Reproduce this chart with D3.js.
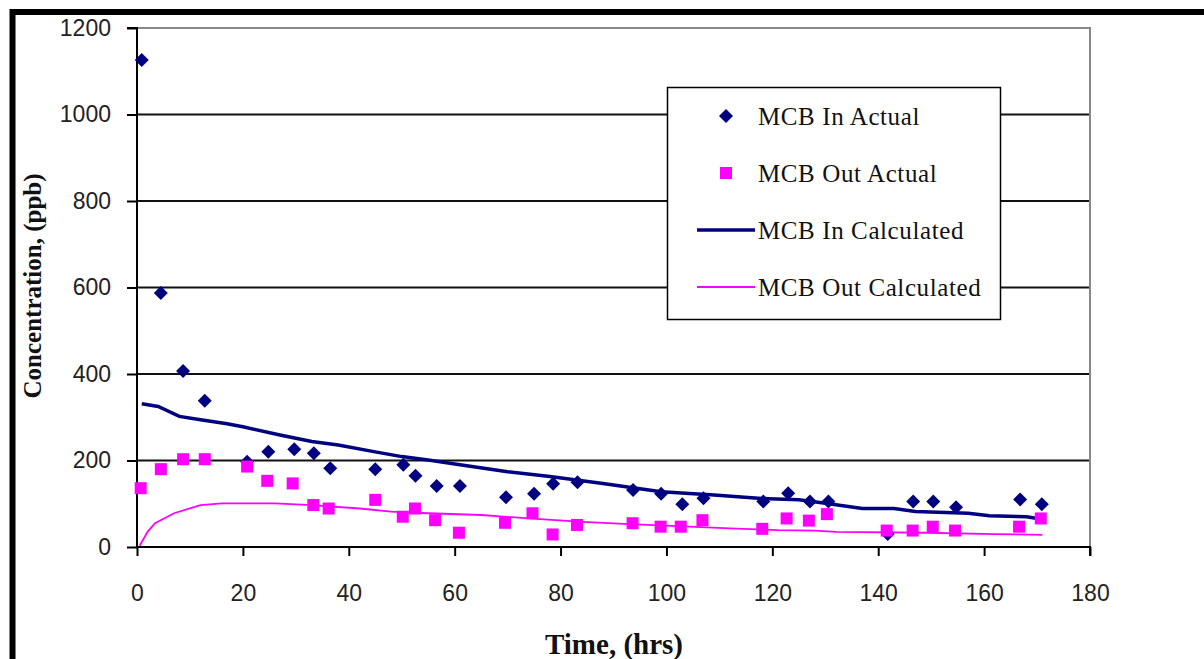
<!DOCTYPE html>
<html><head><meta charset="utf-8">
<script src="https://cdn.jsdelivr.net/npm/d3@7"></script>
<style>html,body{margin:0;padding:0;background:#fff;overflow:hidden}</style>
</head><body>
<svg id="c" width="1204" height="659"></svg>
<script>
// ---- data ----
const xTicks = [0,20,40,60,80,100,120,140,160,180];
const yTicks = [0,200,400,600,800,1000,1200];
const seriesNames = ["MCB In Actual","MCB Out Actual","MCB In Calculated","MCB Out Calculated"];
const inActual = [[0.9,1126],[4.5,587],[8.7,407],[12.8,338],[20.8,197],[24.8,220],[29.7,226],[33.4,217],[36.5,182],[45.0,180],[50.3,190],[52.6,165],[56.6,141],[61.0,141],[69.7,115],[75.0,123],[78.6,146],[83.2,150],[93.7,132],[99.0,123],[103.0,99],[107.0,113],[118.3,105],[123.0,124],[127.1,105],[130.6,105],[141.8,30],[146.6,105],[150.4,105],[154.7,92],[166.8,110],[170.9,99]];
const outActual = [[0.7,136],[4.5,180],[8.7,203],[12.8,203],[20.8,186],[24.6,153],[29.4,147],[33.3,97],[36.2,89],[45.0,109],[50.2,70],[52.5,89],[56.3,62],[60.8,33],[69.5,56],[74.7,78],[78.5,29],[83.1,51],[93.6,55],[98.9,47],[102.7,47],[106.8,62],[118.1,42],[122.7,66],[126.9,61],[130.3,76],[141.6,38],[146.5,38],[150.3,47],[154.5,38],[166.6,47],[170.7,66]];
const inCalc = [[0.9,331],[4,325],[8,302],[12,294],[17,285],[20,278],[27,259],[33,244],[38,236],[45,220],[50,209],[55,201],[61,190],[70,174],[78,163],[88,147],[99,128],[109,120],[118,112],[125,109],[130,101],[137,89],[143,89],[147,82],[157,78],[161,72],[168,70],[171,64]];
const outCalc = [[0.5,3],[2,35],[3.4,55],[7,78],[12,97],[16,101],[26,101],[33,97],[42,89],[48,82],[55,78],[65,74],[74,66],[84,58],[93,53],[101,49],[112,43],[121,39],[128,38],[132,35],[149,33],[162,30],[171,28]];

// ---- setup ----
const svg = d3.select("#c");
const navy = "#000080", magenta = "#ff00ff";
const x = d3.scaleLinear().domain([0,180]).range([137,1090]);
const y = d3.scaleLinear().domain([0,1200]).range([547,28]);

// outer frame
svg.append("rect").attr("x",12.5).attr("y",12).attr("width",1400).attr("height",900)
  .attr("fill","none").attr("stroke","#000").attr("stroke-width",6);

// gridlines
svg.append("g").selectAll("line").data(yTicks.filter(d=>d>0&&d<1200)).join("line")
  .attr("x1",x(0)).attr("x2",x(180)).attr("y1",d=>y(d)).attr("y2",d=>y(d))
  .attr("stroke","#111").attr("stroke-width",2);
// plot border (top/right) gray
svg.append("path").attr("d",`M${x(0)},${y(1200)}H${x(180)}V${y(0)}`)
  .attr("fill","none").attr("stroke","#888").attr("stroke-width",2);

// axes
const tickFont = "'Liberation Sans', Arial, sans-serif";
const yAxis = svg.append("g").attr("transform",`translate(${x(0)},0)`)
  .call(d3.axisLeft(y).tickValues(yTicks).tickSize(10).tickPadding(16).tickFormat(d3.format("d")));
const xAxis = svg.append("g").attr("transform",`translate(0,${y(0)})`)
  .call(d3.axisBottom(x).tickValues(xTicks).tickSize(9).tickPadding(29).tickFormat(d3.format("d")));
[yAxis,xAxis].forEach(a=>{
  a.select(".domain").attr("stroke","#000").attr("stroke-width",2);
  a.selectAll(".tick line").attr("stroke","#000").attr("stroke-width",2);
  a.selectAll("text").attr("font-family",tickFont).attr("font-size",23).attr("fill","#222");
});
yAxis.select(".domain").attr("d",`M-10,${y(1200)}H0V${y(0)}`);
xAxis.select(".domain").attr("d",`M${x(0)},0H${x(180)}V9`);

// lines
const line = d3.line().x(d=>x(d[0])).y(d=>y(d[1]));
svg.append("path").datum(inCalc).attr("d",line).attr("fill","none").attr("stroke",navy).attr("stroke-width",3.5);
svg.append("path").datum(outCalc).attr("d",line).attr("fill","none").attr("stroke",magenta).attr("stroke-width",1.8);

// markers
const diamond = s => `M0,${-s}L${s},0L0,${s}L${-s},0Z`;
svg.append("g").selectAll("path").data(inActual).join("path")
  .attr("d",diamond(7)).attr("transform",d=>`translate(${x(d[0])},${y(d[1])})`).attr("fill",navy);
svg.append("g").selectAll("rect").data(outActual).join("rect")
  .attr("x",d=>x(d[0])-6).attr("y",d=>y(d[1])-6).attr("width",12).attr("height",12).attr("fill",magenta);

// legend
const lg = svg.append("g");
lg.append("rect").attr("x",667.5).attr("y",87.5).attr("width",333).attr("height",232)
  .attr("fill","#fff").attr("stroke","#000").attr("stroke-width",1.5);
const rowsY = [116,173,230,287];
lg.append("path").attr("d",diamond(7)).attr("transform",`translate(726,${rowsY[0]})`).attr("fill",navy);
lg.append("rect").attr("x",720).attr("y",rowsY[1]-6).attr("width",12).attr("height",12).attr("fill",magenta);
lg.append("line").attr("x1",697).attr("x2",755).attr("y1",rowsY[2]).attr("y2",rowsY[2]).attr("stroke",navy).attr("stroke-width",3.5);
lg.append("line").attr("x1",697).attr("x2",755).attr("y1",rowsY[3]).attr("y2",rowsY[3]).attr("stroke",magenta).attr("stroke-width",1.8);
lg.selectAll("text").data(seriesNames).join("text")
  .attr("x",758).attr("y",(d,i)=>rowsY[i]+9).text(d=>d)
  .attr("font-family","'Liberation Serif','Times New Roman',serif").attr("font-size",25)
  .attr("letter-spacing",0.6).attr("fill","#111");

// axis titles
svg.append("text").attr("x",614).attr("y",654).attr("text-anchor","middle")
  .attr("font-family","'Liberation Serif','Times New Roman',serif").attr("font-weight","bold")
  .attr("font-size",29).attr("fill","#111").text("Time, (hrs)");
svg.append("text").attr("transform","translate(41,286) rotate(-90)").attr("text-anchor","middle")
  .attr("font-family","'Liberation Serif','Times New Roman',serif").attr("font-weight","bold")
  .attr("font-size",25).attr("fill","#111").text("Concentration, (ppb)");
</script>
</body></html>
